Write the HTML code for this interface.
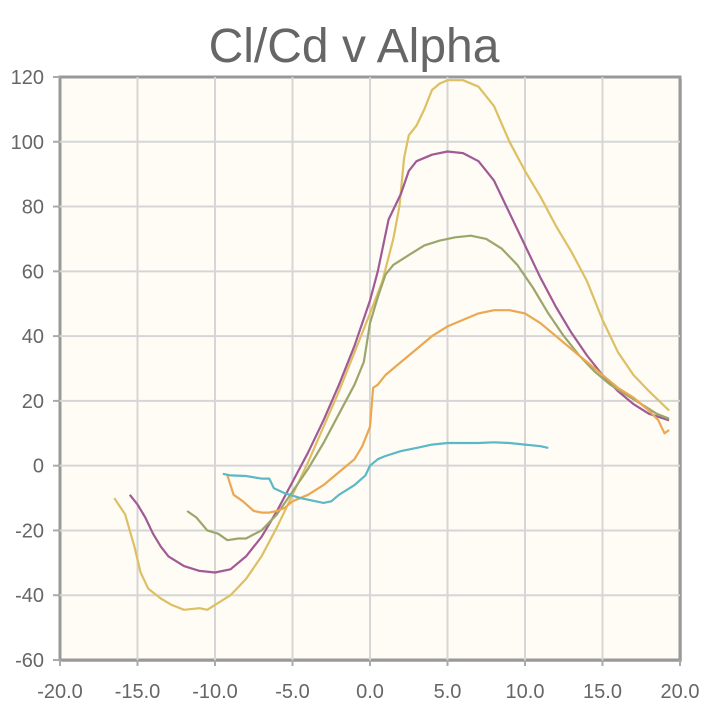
<!DOCTYPE html>
<html><head><meta charset="utf-8"><style>
html,body{margin:0;padding:0;background:#fff;}
svg{display:block;font-family:"Liberation Sans",sans-serif;}
</style></head><body>
<svg id="chart" width="705" height="718">
<text x="354" y="62" text-anchor="middle" font-size="48" fill="#666">Cl/Cd v Alpha</text>
<rect x="62" y="79" width="620" height="583" fill="#ccc"/>
<rect x="60" y="77" width="620" height="583" fill="#fffcf5" stroke="#999" stroke-width="3"/>
<g id="grid"></g><g id="axes"></g><g id="series"></g>
</svg>
<script>
const xTicks=[-20,-15,-10,-5,0,5,10,15,20];
const yTicks=[120,100,80,60,40,20,0,-20,-40,-60];
const seriesNames=["yellow","purple","green","orange","cyan"];
const seriesColors=["#dcc063","#a05a95","#9aa76c","#eba850","#5bb8c6"];
const yellowA=[-16.5,-15.8,-15.2,-14.8,-14.3,-13.5,-12.8,-12,-11,-10.5,-10,-9,-8,-7,-6,-5,-4,-3,-2,-1,0,0.8,1.5,1.9,2.2,2.5,3,3.5,4,4.5,5,6,7,8,9,10,11,12,13,14,15,16,17,18,19.3];
const yellowV=[-10,-15,-25,-33,-38,-41,-43,-44.5,-44,-44.5,-43,-40,-35,-28,-19,-9,1,12,23,35,47,57,70,80,95,102,105,110,116,118,119,119,117,111,100,91,83,74,66,57,45,35,28,23,17];
const purpleA=[-15.5,-15,-14.5,-14,-13.5,-13,-12,-11,-10,-9,-8,-7,-6,-5,-4,-3,-2,-1,0,0.5,1.2,2,2.5,3,4,5,6,7,8,9,10,11,12,13,14,15,16,17,18,19.3];
const purpleV=[-9,-12,-16,-21,-25,-28,-31,-32.5,-33,-32,-28,-22,-14,-5,4,14,25,37,51,60,76,84,91,94,96,97,96.5,94,88,78,68,58,49,41,34,28,23,19,16,14];
const greenA=[-11.8,-11.2,-10.5,-9.8,-9.2,-8.5,-8,-7,-6,-5,-4,-3,-2,-1,-0.4,0,0.5,1,1.5,2.5,3.5,4.5,5.5,6.5,7.5,8.5,9.5,10.5,11.5,12.5,13.5,14.5,15.5,16.5,17.5,18.5,19.3];
const greenV=[-14,-16,-20,-21,-23,-22.5,-22.5,-20,-15,-8,-1,7,16,25,32,44,52,59,62,65,68,69.5,70.5,71,70,67,62,55,47,40,34,29,25,22,19,16,14.5];
const orangeA=[-9.2,-8.8,-8.2,-7.5,-7,-6.5,-6,-5.5,-5,-4,-3,-2,-1,-0.5,0,0.2,0.5,1,2,3,4,5,6,7,8,9,10,11,12,13,14,15,16,17,18,18.6,19,19.3];
const orangeV=[-3,-9,-11,-14,-14.5,-14.5,-14,-13,-11,-9,-6,-2,2,6,12,24,25,28,32,36,40,43,45,47,48,48,47,44,40,36,32,28,24,21,17,14,10,11];
const cyanA=[-9.5,-9,-8,-7,-6.5,-6.2,-5.5,-4.5,-3.5,-3,-2.5,-2,-1,-0.3,0,0.5,1,2,3,4,5,6,7,8,9,10,11,11.5];
const cyanV=[-2.5,-3,-3.2,-4,-4,-7,-8.5,-10,-11,-11.5,-11,-9,-6,-3,0,2,3,4.5,5.5,6.5,7,7,7,7.2,7,6.5,6,5.5];
const NS="http://www.w3.org/2000/svg";
const X0=60,X1=680,Y0=660,Y1=77;
function sx(a){return X0+(a+20)/40*(X1-X0);}
function sy(v){return Y0-(v+60)/180*(Y0-Y1);}
const grid=document.getElementById('grid'),axes=document.getElementById('axes'),ser=document.getElementById('series');
function mk(t,at,p){const e=document.createElementNS(NS,t);for(const k in at)e.setAttribute(k,at[k]);p.appendChild(e);return e;}
xTicks.forEach(t=>{
 const x=sx(t);
 if(t>-20&&t<20){const l=mk('line',{x1:x,x2:x,y1:Y1,y2:Y0,stroke:'#d6d6d6','stroke-width':2},grid);
 
 }
 const tk=mk('line',{x1:x,x2:x,y1:Y0,y2:Y0+6,stroke:'#aaa','stroke-width':2},axes);
 
 
 const tx=mk('text',{x:x,y:698,'text-anchor':'middle','font-size':20,fill:'#666'},axes);
 tx.textContent=t.toFixed(1);
 
 
});
yTicks.forEach(t=>{
 const y=sy(t);
 if(t>-60&&t<120){const l=mk('line',{x1:X0,x2:X1,y1:y,y2:y,stroke:'#d6d6d6','stroke-width':2},grid);
 
 }
 const tk=mk('line',{x1:X0-7,x2:X0,y1:y,y2:y,stroke:'#aaa','stroke-width':2},axes);
 
 
 const tx=mk('text',{x:44,y:y+7,'text-anchor':'end','font-size':20,fill:'#666'},axes);
 tx.textContent=t;
 
 
});
const data=[[yellowA,yellowV],[purpleA,purpleV],[greenA,greenV],[orangeA,orangeV],[cyanA,cyanV]];
data.forEach((d,i)=>{
 const pts=d[0].map((a,j)=>sx(a).toFixed(1)+','+sy(d[1][j]).toFixed(1)).join(' ');
 const p=mk('polyline',{points:pts,fill:'none',stroke:seriesColors[i],'stroke-width':2.2,'stroke-linejoin':'round'},ser);
 
 
});
</script>
</body></html>
